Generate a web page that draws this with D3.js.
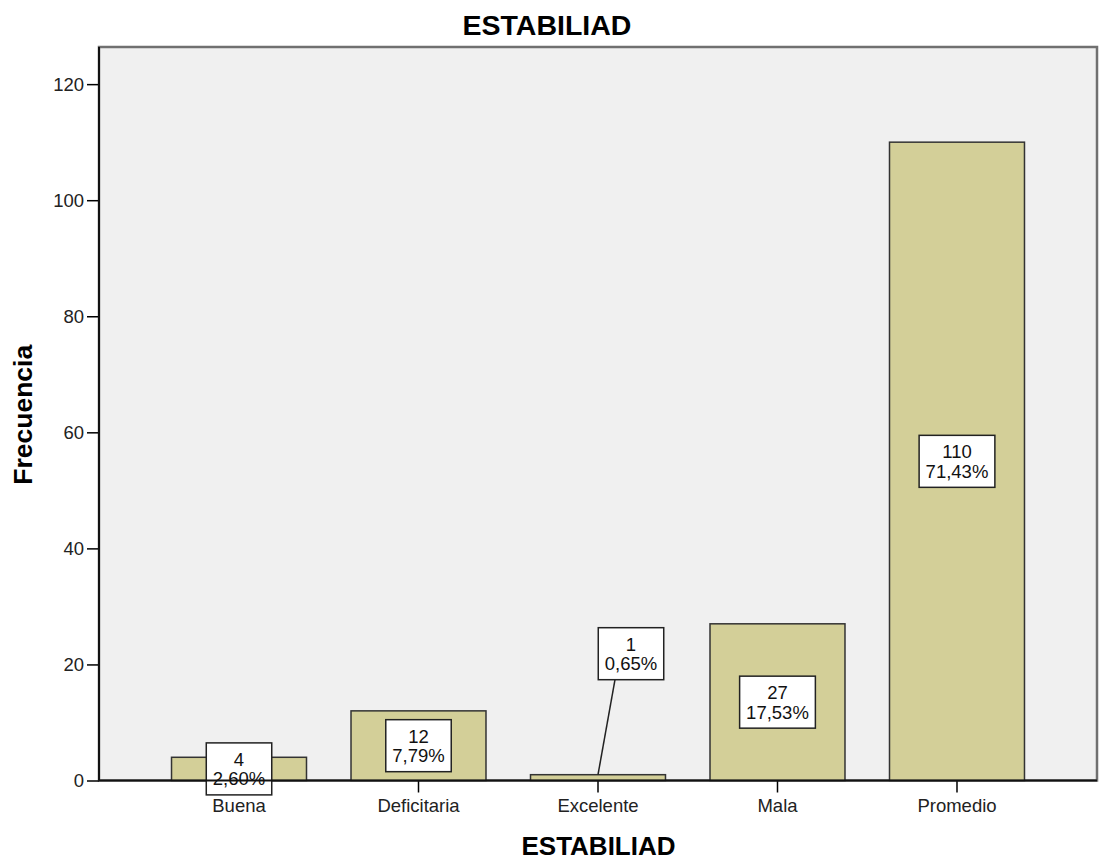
<!DOCTYPE html>
<html lang="es">
<head>
  <meta charset="UTF-8">
  <title>ESTABILIAD</title>
  <script src="https://d3js.org/d3.v7.min.js"></script>
  <style>
    body { margin: 0; background: #fff; }
    svg { display: block; font-family: "Liberation Sans", Arial, sans-serif; }
  </style>
</head>
<body>
  <svg id="chart" width="1102" height="861"></svg>
  <script>
    // datos
    const categorias = ["Buena", "Deficitaria", "Excelente", "Mala", "Promedio"];
    const frecuencias = [4, 12, 1, 27, 110];
    const ticksY = [0, 20, 40, 60, 80, 100, 120];
    const yMax = 126.4;

    const total = d3.sum(frecuencias);
    const fmtPct = v => (v * 100).toFixed(2).replace(".", ",") + "%";

    const plot = { left: 99, right: 1097, top: 47, bottom: 780.5 };
    const svg = d3.select("#chart");

    const x = d3.scaleBand()
      .domain(categorias)
      .range([plot.left, plot.right])
      .paddingInner(0.248)
      .paddingOuter(0.404);

    const y = d3.scaleLinear()
      .domain([0, yMax])
      .range([plot.bottom, plot.top]);

    // fondo del area de trazado
    svg.append("rect")
      .attr("x", plot.left).attr("y", plot.top)
      .attr("width", plot.right - plot.left)
      .attr("height", plot.bottom - plot.top)
      .attr("fill", "#f0f0f0")
      .attr("stroke", "#707070")
      .attr("stroke-width", 2.5);

    // eje Y
    const gy = svg.append("g")
      .attr("transform", `translate(${plot.left},0)`)
      .call(d3.axisLeft(y).tickValues(ticksY).tickSize(12).tickPadding(3));
    gy.select(".domain").remove();
    gy.selectAll("line").attr("stroke", "#000").attr("stroke-width", 1.5);
    gy.selectAll("text").attr("font-size", 18.5).attr("fill", "#222")
      .attr("font-family", "Liberation Sans, Arial, sans-serif");

    // eje X
    const gx = svg.append("g")
      .attr("transform", `translate(0,${plot.bottom})`)
      .call(d3.axisBottom(x).tickSize(12).tickPadding(6));
    gx.select(".domain").remove();
    gx.selectAll("line").attr("stroke", "#000").attr("stroke-width", 1.5);
    gx.selectAll("text").attr("font-size", 18.5).attr("fill", "#222")
      .attr("font-family", "Liberation Sans, Arial, sans-serif");

    // barras
    svg.selectAll(".bar")
      .data(categorias)
      .enter()
      .append("rect")
      .attr("class", "bar")
      .attr("x", d => x(d))
      .attr("y", (d, i) => y(frecuencias[i]))
      .attr("width", x.bandwidth())
      .attr("height", (d, i) => y(0) - y(frecuencias[i]))
      .attr("fill", "#d3cf98")
      .attr("stroke", "#333")
      .attr("stroke-width", 1.5);

    // etiquetas de valor
    const lineH = 19.5;
    categorias.forEach((c, i) => {
      const v = frecuencias[i];
      const cx = x(c) + x.bandwidth() / 2;
      const barTop = y(v);
      const barH = y(0) - barTop;
      let bx = cx, by = (barTop + y(0)) / 2;
      const callout = barH < 10;
      if (callout) { bx = cx + 33; by = barTop - 121; }

      const g = svg.append("g");
      const t = g.append("text")
        .attr("text-anchor", "middle")
        .attr("font-size", 18.5)
        .attr("fill", "#111");
      t.append("tspan").attr("x", bx).attr("y", by - 3).text(v);
      t.append("tspan").attr("x", bx).attr("y", by - 3 + lineH).text(fmtPct(v / total));
      const w = Math.max(...t.selectAll("tspan").nodes().map(n => n.getComputedTextLength())) + 13;
      const h = 52;
      if (callout) {
        g.insert("line", "text")
          .attr("x1", bx - 16).attr("y1", by + h / 2)
          .attr("x2", cx).attr("y2", barTop)
          .attr("stroke", "#222").attr("stroke-width", 1.5);
      }
      g.insert("rect", "text")
        .attr("x", bx - w / 2).attr("y", by - h / 2)
        .attr("width", w).attr("height", h)
        .attr("fill", "#fff")
        .attr("stroke", "#222")
        .attr("stroke-width", 1.5);
    });

    // lineas de ejes encima
    svg.append("line")
      .attr("x1", plot.left).attr("x2", plot.right)
      .attr("y1", plot.bottom).attr("y2", plot.bottom)
      .attr("stroke", "#111").attr("stroke-width", 2);
    svg.append("line")
      .attr("x1", plot.left).attr("x2", plot.left)
      .attr("y1", plot.top).attr("y2", plot.bottom)
      .attr("stroke", "#111").attr("stroke-width", 2);

    // titulos
    svg.append("text")
      .attr("x", 547).attr("y", 35)
      .attr("text-anchor", "middle")
      .attr("font-size", 28.5).attr("font-weight", "bold")
      .text("ESTABILIAD");

    svg.append("text")
      .attr("x", (plot.left + plot.right) / 2 + 0.5).attr("y", 855)
      .attr("text-anchor", "middle")
      .attr("font-size", 26).attr("font-weight", "bold")
      .text("ESTABILIAD");

    svg.append("text")
      .attr("transform", `translate(32,${(plot.top + plot.bottom) / 2 + 1}) rotate(-90)`)
      .attr("text-anchor", "middle")
      .attr("font-size", 26.5).attr("font-weight", "bold")
      .text("Frecuencia");
  </script>
</body>
</html>
